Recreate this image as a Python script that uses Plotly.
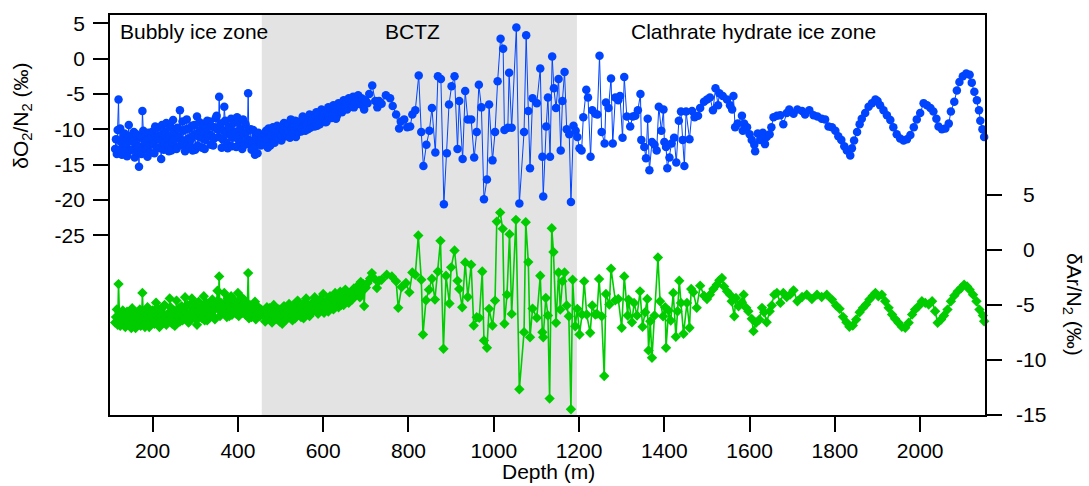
import plotly.graph_objects as go

# ---------------- data ----------------
# Bubbly-ice zone (dense sampling), set A
depth_bubbly = [112, 116, 120, 124, 128, 132, 136, 140, 144, 148, 152, 156, 160, 164, 168, 172, 176, 180,
                184, 188, 192, 196, 200, 204, 208, 212, 216, 220, 224, 228, 232, 236, 240, 244, 248, 252,
                256, 260, 264, 268, 272, 276, 280, 284, 288, 292, 296, 300, 304, 308, 312, 316, 320, 324,
                328, 332, 336, 340, 344, 348, 352, 356, 360, 364, 368, 372, 376, 380, 384, 388, 392, 396,
                400, 404, 408, 412, 416, 420, 424, 428, 432, 436, 440, 444, 448, 452, 456]
o2_bubbly = [-12.8, -13.5, -5.8, -9.9, -13.6, -11.2, -12.4, -13.8, -9.4, -11.6, -12.9, -10.4, -12.1, -13.2,
             -15.3, -11.0, -7.4, -12.6, -10.8, -13.9, -11.5, -12.2, -10.3, -13.4, -11.1, -9.8, -12.7, -14.2,
             -10.6, -11.9, -9.1, -12.3, -10.9, -13.0, -8.7, -11.4, -12.8, -9.9, -7.3, -11.7, -10.2, -13.1,
             -8.6, -11.3, -12.4, -9.5, -10.8, -12.9, -8.2, -11.0, -10.1, -12.6, -9.3, -11.5, -8.8, -10.7,
             -12.2, -9.6, -11.3, -8.4, -10.0, -5.4, -9.2, -11.4, -6.8, -10.5, -12.7, -9.7, -8.5, -11.2,
             -10.3, -12.5, -9.0, -10.9, -11.8, -8.6, -12.2, -10.4, -4.9, -11.6, -12.9, -10.1, -13.6, -11.3,
             -10.5, -12.0, -11.1]
ar_bubbly = [-6.6, -5.4, -3.1, -6.9, -5.8, -6.4, -7.0, -5.6, -6.2, -6.8, -5.3, -6.5, -7.1, -5.9, -6.3, -6.9,
             -3.9, -5.7, -6.6, -5.2, -7.0, -6.1, -5.5, -6.7, -4.8, -6.0, -7.0, -5.3, -6.4, -5.0, -6.8, -5.8,
             -4.4, -6.2, -5.6, -6.9, -4.6, -5.9, -6.5, -5.1, -6.1, -4.3, -5.7, -6.6, -5.0, -4.4, -6.0, -5.4,
             -6.8, -4.7, -5.6, -6.2, -4.2, -5.3, -6.4, -4.9, -5.8, -4.5, -6.1, -5.2, -3.7, -2.4, -4.8, -5.6,
             -3.9, -5.0, -4.4, -6.0, -4.2, -5.4, -4.6, -5.8, -3.9, -5.1, -4.3, -5.5, -4.8, -5.9, -2.1, -5.0,
             -6.1, -5.3, -4.7, -5.8, -5.2, -6.0, -5.5]

# Bubbly-ice zone, set B (samples in between)
depth_bubbly_b = [114, 118, 122, 126, 130, 134, 138, 142, 146, 150, 154, 158, 162, 166, 170, 174, 178, 182,
                  186, 190, 194, 198, 202, 206, 210, 214, 218, 222, 226, 230, 234, 238, 242, 246, 250, 254,
                  258, 262, 266, 270, 274, 278, 282, 286, 290, 294, 298, 302, 306, 310, 314, 318, 322, 326,
                  330, 334, 338, 342, 346, 350, 354, 358, 362, 366, 370, 374, 378, 382, 386, 390, 394, 398,
                  402, 406, 410, 414, 418, 422, 426, 430, 434, 438, 442, 446, 450, 454]
o2_bubbly_b = [-11.4, -10.1, -12.9, -11.8, -13.2, -10.6, -12.0, -11.3, -13.0, -10.9,
               -11.7, -14.0, -10.7, -12.4, -11.2, -13.5, -10.2, -11.9, -12.8, -10.5,
               -13.3, -11.0, -12.1, -9.6, -12.6, -10.9, -11.5, -9.4, -12.9, -10.3,
               -11.2, -13.1, -9.7, -11.8, -10.4, -12.5, -9.8, -11.1, -12.3, -8.9,
               -11.6, -10.0, -12.2, -9.9, -11.4, -13.0, -9.4, -10.6, -12.3, -9.0,
               -11.2, -10.4, -12.8, -9.7, -11.0, -8.9, -10.9, -12.3, -9.8, -8.1,
               -11.1, -9.5, -12.6, -10.2, -8.8, -11.9, -9.6, -10.8, -12.4, -9.1,
               -10.6, -8.3, -11.5, -9.9, -12.8, -10.7, -9.3, -11.4, -12.1, -10.0,
               -11.7, -12.6, -10.8, -13.4, -11.5, -12.3]
ar_bubbly_b = [-6.1, -6.8, -5.7, -6.3, -5.5, -6.9, -6.0, -6.6, -5.9, -7.1,
               -6.2, -5.6, -6.7, -6.0, -5.4, -6.5, -6.1, -7.0, -5.8, -6.3,
               -5.7, -6.6, -5.9, -6.4, -5.3, -6.8, -5.6, -6.0, -5.1, -6.5,
               -5.9, -6.3, -5.2, -6.7, -5.5, -6.0, -6.6, -5.3, -5.8, -6.4,
               -5.6, -6.2, -5.0, -6.5, -5.7, -5.9, -4.9, -6.3, -5.5, -6.1,
               -5.2, -5.8, -6.4, -4.8, -5.6, -6.0, -5.1, -5.5, -6.3, -4.7,
               -5.4, -6.0, -4.9, -5.7, -5.2, -6.1, -4.6, -5.5, -5.9, -5.0,
               -5.6, -4.8, -6.0, -5.2, -5.7, -4.5, -5.9, -5.3, -6.2, -5.5,
               -5.8, -5.1, -6.3, -5.6, -6.0, -5.4]

# Upper BCTZ (dense sampling), set A
depth_upper = [460, 464, 468, 472, 476, 480, 484, 488, 492, 496, 500, 504, 508, 512, 516, 520, 524, 528,
               532, 536, 540, 544, 548, 552, 556, 560, 564, 568, 572, 576, 580, 584, 588, 592, 596, 600,
               604, 608, 612, 616, 620, 624, 628, 632, 636, 640, 644, 648, 652, 656, 660, 664, 668, 672,
               676, 680, 684, 688, 692, 696, 700]
o2_upper = [-12.0, -10.6, -11.4, -9.9, -12.3, -10.8, -11.7, -10.2, -9.5, -11.3, -10.0, -10.9, -9.1, -11.0,
            -9.8, -10.5, -8.6, -10.2, -9.4, -11.1, -8.9, -9.7, -10.3, -8.2, -9.5, -8.8, -10.0, -7.9, -9.1,
            -8.4, -9.6, -7.6, -8.7, -9.3, -7.2, -8.3, -7.8, -8.9, -6.9, -7.7, -8.4, -6.6, -7.4, -8.1, -6.3,
            -7.0, -7.6, -5.9, -6.7, -7.2, -5.6, -6.4, -6.0, -6.9, -5.5, -6.2, -5.7, -6.5, -5.8, -7.2, -6.0]
ar_upper = [-5.9, -6.5, -5.2, -6.1, -5.6, -6.6, -5.0, -5.8, -6.3, -5.4, -6.0, -6.7, -5.1, -5.7, -6.2, -4.9,
            -5.5, -6.4, -5.3, -5.9, -4.6, -5.6, -6.1, -5.0, -5.7, -4.4, -5.4, -6.0, -4.9, -5.5, -4.3, -5.2,
            -5.8, -4.5, -5.1, -4.0, -5.3, -4.7, -5.6, -4.2, -4.9, -5.4, -3.9, -4.6, -5.2, -3.8, -4.4, -5.0,
            -3.6, -4.3, -4.8, -3.9, -4.5, -3.5, -4.1, -3.3, -4.0, -2.9, -3.7, -5.1, -3.4]

# Upper BCTZ, set B
depth_upper_b = [462, 466, 470, 474, 478, 482, 486, 490, 494, 498, 502, 506, 510, 514, 518, 522, 526, 530,
                 534, 538, 542, 546, 550, 554, 558, 562, 566, 570, 574, 578, 582, 586, 590, 594, 598, 602,
                 606, 610, 614, 618, 622, 626, 630, 634, 638, 642, 646, 650, 654, 658, 662, 666, 670, 674,
                 678, 682, 686, 690, 694, 698]
o2_upper_b = [-11.3, -10.2, -12.6, -10.7, -11.0, -9.7, -11.9, -10.4, -10.9, -9.8,
              -11.6, -10.1, -9.6, -10.7, -9.2, -11.2, -9.9, -10.6, -8.8, -9.5,
              -10.4, -9.0, -9.9, -8.7, -10.2, -9.3, -8.5, -9.8, -8.0, -9.0,
              -8.2, -9.5, -7.8, -8.8, -8.1, -7.4, -9.0, -7.7, -8.3, -7.0,
              -7.8, -7.1, -8.5, -6.8, -7.5, -6.5, -7.2, -6.9, -6.1, -6.6,
              -5.9, -6.8, -5.4, -6.3, -5.8, -5.2, -6.1, -5.6, -6.6, -5.9]
ar_upper_b = [-5.6, -6.2, -5.8, -5.3, -6.4, -5.9, -5.5, -6.1, -5.7, -6.5,
              -5.5, -6.0, -5.6, -6.3, -5.2, -5.8, -6.0, -5.0, -6.2, -5.4,
              -5.9, -5.3, -5.7, -6.2, -4.8, -5.6, -5.1, -5.8, -5.2, -4.7,
              -5.5, -4.9, -5.4, -5.0, -4.6, -5.7, -4.8, -5.1, -4.4, -5.0,
              -4.5, -5.1, -4.2, -4.8, -4.4, -5.0, -3.9, -4.6, -4.1, -4.7,
              -4.0, -4.4, -3.7, -4.2, -3.8, -3.6, -4.3, -3.4, -3.1, -3.5]

# Deeper part, O2/N2
depth_o2_deep = [704, 708, 715, 722, 727, 731, 737, 747, 757, 763, 771, 778, 782, 790, 797, 804, 809, 816,
                 824, 830, 835, 842, 849, 855, 863, 869, 876, 883, 890, 895, 901, 908, 915, 919, 927, 933,
                 939, 947, 954, 960, 965, 971, 977, 984, 989, 997, 1003, 1009, 1016, 1022, 1025, 1033, 1036,
                 1042, 1053, 1060, 1071, 1076, 1081, 1085, 1091, 1101, 1109, 1114, 1116, 1123, 1127, 1132,
                 1137, 1141, 1146, 1152, 1157, 1161, 1166, 1171, 1177, 1181, 1187, 1192, 1196, 1201, 1206,
                 1210, 1217, 1221, 1227, 1231, 1238, 1243, 1248, 1253, 1260, 1263, 1269, 1275, 1279, 1285,
                 1292, 1296, 1302, 1306, 1312, 1320, 1326, 1332, 1338, 1344, 1346, 1353, 1357, 1361, 1365,
                 1371, 1377, 1382, 1387, 1393, 1398, 1400, 1404, 1407, 1412, 1417, 1423, 1428, 1434, 1439,
                 1443, 1447, 1451, 1459, 1465, 1471, 1479, 1484, 1493, 1500, 1507, 1514, 1520, 1526, 1529,
                 1537, 1547, 1554, 1559, 1562, 1566, 1572, 1582, 1584, 1587, 1594, 1600, 1605, 1611, 1613,
                 1619, 1625, 1631, 1636, 1640, 1647, 1651, 1656, 1664, 1672, 1679, 1687, 1693, 1703, 1712,
                 1723, 1730, 1740, 1750, 1759, 1769, 1777, 1785, 1793, 1801, 1808, 1815, 1822, 1828, 1836,
                 1840, 1845, 1852, 1858, 1863, 1871, 1879, 1887, 1895, 1900, 1906, 1914, 1922, 1930, 1937,
                 1945, 1953, 1961, 1969, 1977, 1985, 1992, 2000, 2008, 2016, 2024, 2031, 2038, 2043, 2051,
                 2059, 2067, 2072, 2080, 2086, 2092, 2100, 2108, 2116, 2121, 2127, 2133, 2138, 2141, 2146,
                 2150]
o2_deep = [-6.3, -5.0, -3.8, -6.0, -6.9, -6.0, -6.4, -5.2, -5.6, -6.7, -7.9, -9.9, -8.9, -8.6, -9.7, -9.6,
           -7.9, -7.3, -2.4, -10.4, -15.2, -12.2, -10.2, -7.0, -13.3, -2.5, -2.9, -20.6, -13.4, -6.5, -3.9,
           -2.5, -12.8, -6.0, -14.2, -4.6, -8.6, -8.6, -14.0, -10.4, -3.7, -6.9, -19.9, -17.1, -6.5, -14.4,
           -10.4, -3.2, 2.8, 1.4, -10.1, -9.8, -2.0, -9.8, 4.4, -20.5, -10.4, 3.3, -7.4, -15.5, -5.6, -6.3,
           -1.4, -13.9, -19.5, -9.6, -5.5, -13.9, 0.3, -4.2, -7.0, -2.9, -13.0, -6.0, -1.9, -10.0, -10.7,
           -20.3, -9.5, -10.2, -11.1, -12.7, -13.0, -8.3, -4.4, -5.5, -13.9, -7.3, -7.8, -7.9, 0.4, -10.4,
           -12.0, -6.2, -7.0, -2.8, -12.0, -5.5, -5.9, -5.3, -11.2, -2.6, -8.2, -9.6, -8.2, -8.1, -7.3, -5.0,
           -11.5, -12.5, -14.1, -8.5, -15.8, -11.8, -12.2, -13.0, -6.8, -10.2, -7.2, -11.8, -12.5, -15.5,
           -14.0, -12.0, -11.2, -14.7, -8.8, -7.5, -11.5, -15.2, -7.5, -11.4, -7.4, -8.3, -8.1, -7.0, -6.1,
           -5.8, -5.5, -7.3, -4.2, -6.6, -4.9, -5.3, -5.8, -6.6, -7.2, -5.3, -9.7, -9.2, -8.1, -10.2, -9.2,
           -9.7, -10.7, -11.5, -12.2, -13.1, -10.6, -11.5, -10.5, -12.1, -11.1, -10.7, -9.7, -8.3, -8.1,
           -8.0, -9.3, -7.7, -7.2, -7.8, -7.2, -7.4, -7.9, -7.3, -8.0, -8.2, -8.5, -8.6, -9.6, -9.7, -10.2,
           -11.0, -11.5, -12.4, -13.0, -13.7, -12.7, -11.6, -10.4, -9.3, -8.5, -7.7, -6.8, -6.3, -5.8, -6.0,
           -6.6, -7.3, -8.0, -8.7, -9.7, -10.7, -11.3, -11.6, -11.4, -10.8, -9.7, -8.6, -7.7, -6.3, -6.6,
           -7.0, -7.5, -8.5, -9.6, -10.0, -9.9, -9.2, -7.5, -6.1, -4.5, -3.3, -2.5, -2.1, -2.3, -3.4, -4.7,
           -5.9, -7.3, -8.8, -10.0, -11.1]

# Deeper part, Ar/N2
depth_ar_deep = [704, 710, 714, 720, 726, 731, 737, 749, 761, 771, 776, 784, 794, 802, 809, 816, 823, 830,
                 834, 841, 848, 855, 862, 869, 875, 882, 888, 896, 900, 908, 915, 919, 926, 933, 939, 947,
                 953, 960, 966, 973, 977, 984, 989, 997, 1003, 1007, 1015, 1021, 1025, 1031, 1037, 1042,
                 1052, 1060, 1071, 1075, 1081, 1085, 1091, 1101, 1109, 1114, 1116, 1122, 1127, 1131, 1136,
                 1140, 1146, 1152, 1156, 1161, 1166, 1171, 1176, 1181, 1185, 1191, 1196, 1201, 1207, 1212,
                 1218, 1226, 1231, 1238, 1242, 1247, 1253, 1259, 1263, 1271, 1275, 1285, 1292, 1300, 1306,
                 1314, 1316, 1324, 1329, 1336, 1343, 1349, 1355, 1360, 1363, 1367, 1371, 1377, 1385, 1390,
                 1397, 1402, 1404, 1410, 1415, 1421, 1427, 1431, 1435, 1439, 1445, 1453, 1459, 1463, 1468,
                 1476, 1484, 1493, 1500, 1507, 1515, 1523, 1529, 1535, 1540, 1547, 1554, 1558, 1564, 1568,
                 1574, 1582, 1586, 1592, 1597, 1605, 1609, 1615, 1623, 1629, 1634, 1640, 1647, 1652, 1658,
                 1664, 1672, 1679, 1687, 1695, 1703, 1712, 1723, 1734, 1746, 1758, 1769, 1781, 1793, 1803,
                 1811, 1819, 1827, 1834, 1842, 1850, 1858, 1866, 1873, 1881, 1889, 1895, 1902, 1910, 1918,
                 1926, 1934, 1941, 1949, 1957, 1965, 1973, 1981, 1988, 1996, 2004, 2012, 2020, 2028, 2035,
                 2041, 2049, 2056, 2064, 2072, 2080, 2088, 2096, 2103, 2110, 2116, 2124, 2132, 2139, 2147,
                 2150]
ar_deep = [-3.0, -2.6, -2.1, -2.6, -3.45, -2.8, -2.7, -2.25, -2.4, -2.85, -5.26, -3.36, -3.0, -3.85, -2.04,
           -2.25, 1.31, -2.7, -7.68, -4.57, -3.61, -2.61, -4.51, -1.95, 0.83, -8.98, -2.34, -4.87, -1.58,
           -0.05, -2.79, -3.54, -5.21, -1.13, -4.27, -1.34, -6.87, -6.11, -6.17, -1.95, -8.22, -8.89, -5.35,
           -6.87, -4.6, 2.58, 3.4, 1.92, -6.71, -4.06, 1.44, -5.81, 2.74, -12.66, -7.47, 2.53, -1.1, -7.93,
           -5.33, -6.17, -2.34, -7.47, -7.93, -4.36, -5.96, -13.51, 1.98, -0.19, -6.62, -2.04, -5.42, -2.85,
           -2.04, -5.05, -6.02, -14.48, -2.7, -6.93, -5.35, -7.68, -5.87, -2.85, -5.87, -7.53, -5.05, -5.87,
           -5.81, -2.64, -6.02, -11.46, -4.0, -4.96, -1.7, -4.57, -4.45, -7.07, -2.4, -5.96, -4.51, -6.57,
           -4.81, -5.96, -3.76, -6.98, -5.66, -4.45, -9.13, -6.48, -9.8, -5.96, -0.68, -4.66, -6.02, -5.21,
           -8.89, -5.51, -6.41, -3.9, -7.89, -5.57, -2.79, -4.81, -7.62, -4.81, -7.07, -3.54, -3.85, -5.26,
           -3.24, -4.15, -4.45, -4.06, -3.54, -3.15, -2.76, -2.55, -3.31, -3.76, -4.06, -4.66, -6.02, -4.36,
           -5.12, -4.76, -4.06, -5.26, -5.57, -6.26, -7.38, -6.62, -6.32, -5.26, -5.66, -6.57, -5.57, -5.05,
           -4.06, -3.9, -4.81, -3.9, -4.27, -4.06, -3.67, -4.66, -4.27, -4.06, -4.45, -4.06, -4.27, -4.06,
           -4.51, -5.05, -5.35, -6.08, -6.57, -6.98, -6.87, -6.32, -5.66, -5.26, -4.96, -4.51, -4.15, -3.9,
           -4.21, -4.06, -4.66, -5.26, -5.87, -6.26, -6.62, -6.98, -7.07, -6.62, -5.87, -5.42, -5.12, -4.66,
           -4.81, -4.96, -4.66, -5.57, -6.62, -6.32, -5.96, -5.42, -4.66, -4.15, -3.76, -3.45, -3.15, -3.31,
           -3.61, -4.06, -4.66, -5.42, -5.96, -6.48]

bctz_top, bctz_bottom = 456, 1195
x_ticks = [200, 400, 600, 800, 1000, 1200, 1400, 1600, 1800, 2000]
o2_ticks = [5, 0, -5, -10, -15, -20, -25]
ar_ticks = [5, 0, -5, -10, -15]
zone_labels = ["Bubbly ice zone", "BCTZ", "Clathrate hydrate ice zone"]


def merge(pairs_list):
    pts = []
    for d, v in pairs_list:
        pts.extend(zip(d, v))
    pts.sort(key=lambda p: p[0])
    return [p[0] for p in pts], [p[1] for p in pts]


depth_o2, o2n2 = merge([(depth_bubbly, o2_bubbly), (depth_bubbly_b, o2_bubbly_b),
                        (depth_upper, o2_upper), (depth_upper_b, o2_upper_b),
                        (depth_o2_deep, o2_deep)])
depth_ar, arn2 = merge([(depth_bubbly, ar_bubbly), (depth_bubbly_b, ar_bubbly_b),
                        (depth_upper, ar_upper), (depth_upper_b, ar_upper_b),
                        (depth_ar_deep, ar_deep)])

# ---------------- figure ----------------
FONT = "Liberation Sans, Arial, Helvetica, sans-serif"
BLUE = "rgb(0,68,255)"
GREEN = "rgb(0,204,0)"

fig = go.Figure()
fig.add_trace(go.Scatter(x=depth_ar, y=arn2, yaxis="y2", mode="lines+markers",
                         line=dict(color=GREEN, width=1.6),
                         marker=dict(symbol="diamond", size=8, color=GREEN),
                         cliponaxis=False, showlegend=False))
fig.add_trace(go.Scatter(x=depth_o2, y=o2n2, mode="lines+markers",
                         line=dict(color=BLUE, width=1),
                         marker=dict(symbol="circle", size=8.5, color=BLUE),
                         cliponaxis=False, showlegend=False))

fig.add_shape(type="rect", xref="x", yref="paper", x0=bctz_top, x1=bctz_bottom, y0=0, y1=1,
              fillcolor="rgb(227,227,227)", line=dict(width=0), layer="below")

axis_common = dict(showgrid=False, zeroline=False, showline=True, linecolor="black", linewidth=1.8,
                   ticks="outside", ticklen=15, tickwidth=1.5, tickcolor="black",
                   tickfont=dict(family=FONT, size=21, color="black"))

hidden = '<span style="color:rgba(0,0,0,0)">-</span>'
ar_ticktext = [(hidden + str(t)) if t >= 0 else str(t) for t in ar_ticks]

fig.update_layout(
    width=1089, height=486,
    margin=dict(l=110, r=104, t=15, b=71),
    plot_bgcolor="white", paper_bgcolor="white",
    font=dict(family=FONT, size=20, color="black"),
    xaxis=dict(range=[100, 2152], tickvals=x_ticks, ticktext=[str(t) for t in x_ticks],
               mirror=True, ticklabelstandoff=1, **axis_common),
    yaxis=dict(range=[-50.43, 6.17], tickvals=o2_ticks, ticktext=[str(t) for t in o2_ticks],
               ticklabelstandoff=4, **axis_common),
    yaxis2=dict(range=[-15, 21.36], tickvals=ar_ticks, ticktext=ar_ticktext,
                overlaying="y", side="right", ticklabelstandoff=10, **axis_common),
)

ann = dict(showarrow=False, font=dict(family=FONT, size=21, color="black"))
fig.add_annotation(x=118.8, y=0.96, xref="x", yref="paper", text=zone_labels[0],
                   xanchor="left", yanchor="middle", **ann)
fig.add_annotation(x=809.6, y=0.96, xref="x", yref="paper", text=zone_labels[1],
                   xanchor="center", yanchor="middle", **ann)
fig.add_annotation(x=1609.5, y=0.96, xref="x", yref="paper", text=zone_labels[2],
                   xanchor="center", yanchor="middle", **ann)
fig.add_annotation(x=0.5017, y=-0.142, xref="paper", yref="paper", text="Depth (m)",
                   xanchor="center", yanchor="middle", **ann)
fig.add_annotation(x=-0.1009, y=0.7475, xref="paper", yref="paper",
                   text="δO<sub>2</sub>/N<sub>2</sub> (‰)", textangle=-90,
                   xanchor="center", yanchor="middle", **ann)
fig.add_annotation(x=1.1006, y=0.2775, xref="paper", yref="paper",
                   text="δAr/N<sub>2</sub> (‰)", textangle=90,
                   xanchor="center", yanchor="middle", **ann)

fig.write_html("out.html")
